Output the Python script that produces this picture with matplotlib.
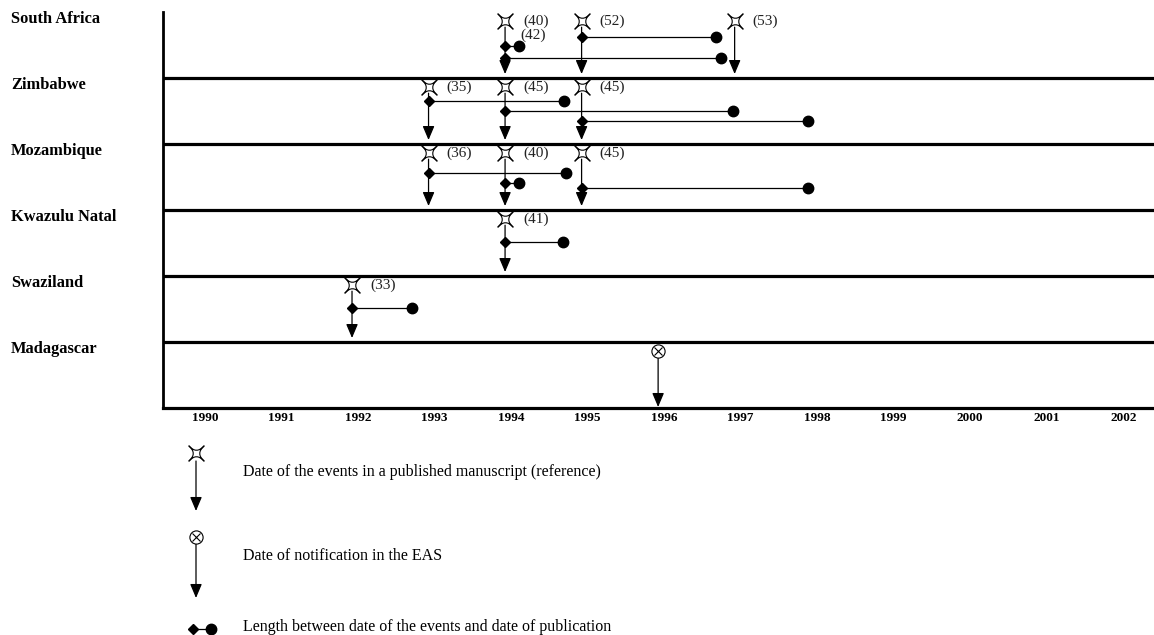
import matplotlib
matplotlib.use("Agg")
import matplotlib.pyplot as plt
from matplotlib.path import Path
from matplotlib.transforms import blended_transform_factory, ScaledTranslation

# ---------------- data ----------------
regions = ['South Africa', 'Zimbabwe', 'Mozambique', 'Kwazulu Natal', 'Swaziland', 'Madagascar']
years = list(range(1990, 2003))

# events reported in published manuscripts (star + arrow)
event_region = [0, 0, 0, 1, 1, 1, 2, 2, 2, 3, 4]
event_year = [1994, 1995, 1997, 1993, 1994, 1995, 1993, 1994, 1995, 1994, 1992]
event_ref = ['(40)', '(52)', '(53)', '(35)', '(45)', '(45)', '(36)', '(40)', '(45)', '(41)', '(33)']

# time from event to publication (diamond -> dot)
seg_region = [0, 0, 0, 1, 1, 1, 2, 2, 2, 3, 4]
seg_start = [1995, 1994, 1994, 1993, 1994, 1995, 1993, 1994, 1995, 1994, 1992]
seg_end = [1996.76, 1994.18, 1996.82, 1994.77, 1996.98, 1997.96, 1994.80, 1994.18, 1997.96, 1994.76, 1992.78]
seg_lane = [0.38, 0.52, 0.70, 0.35, 0.50, 0.65, 0.44, 0.59, 0.67, 0.48, 0.48]

# extra reference label on a publication
extra_region = [0]
extra_year = [1994.18]
extra_ref = ['(42)']

# notifications in the EAS (circle-cross + arrow)
eas_region = [5]
eas_year = [1996]

legend_texts = ['Date of the events in a published manuscript (reference)',
                'Date of notification in the EAS',
                'Length between date of the events and date of publication']

# ---------------- style ----------------
W, H = 1154, 635
fig = plt.figure(figsize=(W / 100, H / 100), dpi=100)
serif = ['Liberation Serif', 'DejaVu Serif']

ax = fig.add_axes([163 / W, (H - 408) / H, (W - 163) / W, (408 - 12) / H])
ax.set_xlim(1989.53, 2002.48)
ax.set_ylim(len(regions), 0)

c = -0.15
star_path = Path([(1, 1), (0, c), (-1, 1), (-c, 0), (-1, -1), (0, -c),
                  (1, -1), (c, 0), (1, 1), (1, 1)],
                 [Path.MOVETO, Path.CURVE3, Path.CURVE3, Path.CURVE3, Path.CURVE3,
                  Path.CURVE3, Path.CURVE3, Path.CURVE3, Path.CURVE3, Path.CLOSEPOLY])

STAR_Y = 0.13
TIP_Y = 0.94
arrow_style = '-|>,head_length=0.85,head_width=0.36'


def draw_star(a, x, y, ms=11):
    a.plot([x], [y], marker=star_path, ms=ms, mfc='white', mec='black', mew=0.8,
           zorder=5, clip_on=False)


def draw_eas(a, x, y):
    a.plot([x], [y], marker='o', ms=9.5, mfc='white', mec='black', mew=0.8, zorder=5, clip_on=False)
    a.plot([x], [y], marker='x', ms=6.2, mec='black', mew=0.8, zorder=6, clip_on=False)


def draw_arrow(a, x, y0, y1):
    a.annotate('', xy=(x, y1), xytext=(x, y0),
               arrowprops=dict(arrowstyle=arrow_style, mutation_scale=10, color='black',
                               lw=0.9, shrinkA=0, shrinkB=0), zorder=3, annotation_clip=False)


# row separators
for i in range(1, len(regions)):
    ax.axhline(i, color='black', lw=2.3, zorder=2)

# events
for r, yr, ref in zip(event_region, event_year, event_ref):
    draw_arrow(ax, yr, r + STAR_Y + 0.1, r + TIP_Y)
    draw_star(ax, yr, r + STAR_Y)
    ax.annotate(ref, xy=(yr, r + STAR_Y), xytext=(13, -0.5), textcoords='offset points',
                fontsize=11, family=serif, va='center', ha='left', color='#222222')

# publication lengths
for r, s, e, lane in zip(seg_region, seg_start, seg_end, seg_lane):
    y = r + lane
    ax.plot([s, e], [y, y], color='black', lw=0.9, zorder=3)
    ax.plot([s], [y], marker='D', ms=5, color='black', zorder=4)
    ax.plot([e], [y], marker='o', ms=7.5, color='black', zorder=4)

for r, yr, ref in zip(extra_region, extra_year, extra_ref):
    ax.annotate(ref, xy=(yr, r + 0.52), xytext=(1, 8), textcoords='offset points',
                fontsize=11, family=serif, va='center', ha='left', color='#222222')

# EAS notifications
for r, yr in zip(eas_region, eas_year):
    draw_arrow(ax, yr, r + STAR_Y + 0.1, r + 0.985)
    draw_eas(ax, yr, r + STAR_Y)

# region labels
tr = blended_transform_factory(fig.transFigure, ax.transData)
for i, name in enumerate(regions):
    ax.text(11 / W, i + 0.1, name, transform=tr, fontsize=11.8, fontweight='bold',
            family=serif, va='center', ha='left')

# axes styling
for side in ['top', 'right']:
    ax.spines[side].set_visible(False)
ax.spines['left'].set_linewidth(2.0)
ax.spines['bottom'].set_linewidth(2.3)
ax.set_yticks([])
ax.set_xticks(years)
ax.set_xticklabels([str(y) for y in years], fontsize=9.5, fontweight='bold', family=serif)
ax.tick_params(axis='x', length=0, pad=3)
off = ScaledTranslation(6 / 100, 0, fig.dpi_scale_trans)
for lbl in ax.get_xticklabels():
    lbl.set_transform(lbl.get_transform() + off)

# ---------------- legend (figure pixel space) ----------------
lg = fig.add_axes([0, 0, 1, 1])
lg.set_xlim(0, W)
lg.set_ylim(H, 0)
lg.axis('off')
lg.patch.set_alpha(0)

draw_arrow(lg, 196, 461, 511)
draw_star(lg, 196, 453)
lg.text(243, 472, legend_texts[0], fontsize=11.5, family=serif, va='center', ha='left')

draw_arrow(lg, 196, 544, 598)
draw_eas(lg, 196, 537)
lg.text(243, 556, legend_texts[1], fontsize=11.5, family=serif, va='center', ha='left')

lg.plot([193, 211], [629, 629], color='black', lw=0.9)
lg.plot([193], [629], marker='D', ms=5, color='black')
lg.plot([211], [629], marker='o', ms=7.5, color='black')
lg.text(243, 627, legend_texts[2], fontsize=11.5, family=serif, va='center', ha='left')

fig.savefig('out.png', dpi=100)
